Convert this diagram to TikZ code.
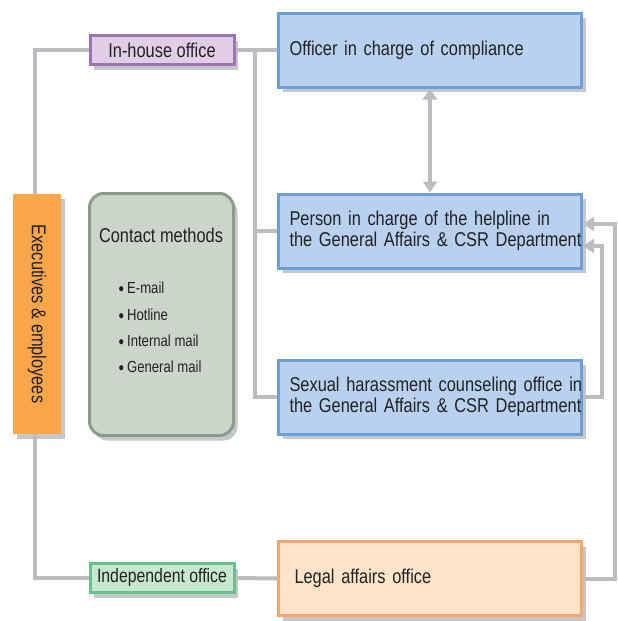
\documentclass[tikz,border=0pt]{standalone}
\usepackage{fontspec}
\setmainfont{Liberation Sans}[FakeStretch=0.82]
\usetikzlibrary{shadows,arrows.meta}

\definecolor{txt}{HTML}{222222}
\definecolor{conngray}{HTML}{BCBDC0}
\definecolor{shadowgray}{HTML}{C6C7C9}
\definecolor{bluefill}{HTML}{B9D1EE}
\definecolor{blueline}{HTML}{6A9FD9}
\definecolor{purplefill}{HTML}{E2CDE6}
\definecolor{purpleline}{HTML}{9E73B4}
\definecolor{greenfill}{HTML}{C7E7CF}
\definecolor{greenline}{HTML}{68C08A}
\definecolor{sagefill}{HTML}{CCD5CA}
\definecolor{sageline}{HTML}{8B9D89}
\definecolor{peachfill}{HTML}{FDE4C9}
\definecolor{peachline}{HTML}{F6A56E}
\definecolor{orangefill}{HTML}{F9A64B}

\newcommand{\bul}{\raisebox{-2.2pt}{\fontsize{19}{19}\selectfont\textbullet}\hspace{3pt}}

\begin{document}
\begin{tikzpicture}[x=1pt,y=-1pt,
  font=\fontsize{20}{21.5}\selectfont,
  shade/.style={drop shadow={shadow xshift=4pt,shadow yshift=-5pt,fill=shadowgray,opacity=1}},
  box/.style={draw, line width=3pt, text=txt, shade},
  bluebox/.style={box, fill=bluefill, draw=blueline, minimum width=303pt,
    minimum height=74pt, text width=281pt, inner xsep=11pt, align=left},
  tag/.style={box, minimum width=144pt, minimum height=29pt, inner sep=0pt},
  conn/.style={draw=conngray, line width=4pt},
  tip/.style={-{Triangle[width=14pt,length=11pt]}},
]
\useasboundingbox (0,0) rectangle (618,621);

% offices on the right
\node[bluebox] (officer) at (430,50) {Officer in charge of compliance};
\node[bluebox] (person) at (430,231)
  {\mbox{Person in charge of the helpline in}\\\mbox{the General Affairs \& CSR Department}};
\node[bluebox] (sexual) at (430,397)
  {\mbox{Sexual harassment counseling office in}\\\mbox{the General Affairs \& CSR Department}};
\node[box, fill=peachfill, draw=peachline, minimum width=303pt, minimum height=74pt,
  text width=271pt, inner xsep=16pt, align=left] (legal) at (430,578.5) {Legal affairs office};

% channel labels
\node[tag, fill=purplefill, draw=purpleline] (inhouse) at (162,50) {In-house office};
\node[tag, fill=greenfill, draw=greenline, font=\fontsize{19.3}{20}\selectfont]
  (indep) at (162,578) {Independent office};

% reporting persons
\node[fill=orangefill, shade, minimum width=48pt, minimum height=240pt,
  inner sep=0pt] (exec) at (37,314) {};
\node[rotate=-90, text=txt] (exectext) at (exec.center) {Executives \& employees};

% contact methods panel
\node[box, fill=sagefill, draw=sageline, rounded corners=14pt, minimum width=144pt,
  minimum height=242pt] (contact) at (161.5,314.5) {};
\node[text=txt, inner sep=0pt] (ctitle) at (161,235) {Contact methods};
\node[text=txt, inner sep=0pt, anchor=west, align=left,
  font=\fontsize{16}{26.3}\selectfont] (citems) at (118.5,328.5)
  {\bul E-mail\\\bul Hotline\\\bul Internal mail\\\bul General mail};

% connectors
\coordinate (trunk) at (255,50);
\draw[conn] (inhouse.east) -- (officer.west);
\draw[conn] (trunk) |- (sexual.west);
\draw[conn] (trunk |- person.west) -- (person.west);
\draw[conn] (inhouse.west) -| ([xshift=-2pt]exec.north);
\draw[conn] ([xshift=-2pt]exec.south) |- (indep.west);
\draw[conn] (indep.east) -- (legal.west);
\draw[conn, {Triangle[width=14pt,length=11pt]}-{Triangle[width=14pt,length=11pt]}]
  (officer.south) -- (person.north);
\draw[conn, tip] (sexual.east) -- ++(19,0) |- ([yshift=-15pt]person.east);
\draw[conn, tip] (legal.east) -- ++(32,0) |- ([yshift=7pt]person.east);
\end{tikzpicture}
\end{document}
